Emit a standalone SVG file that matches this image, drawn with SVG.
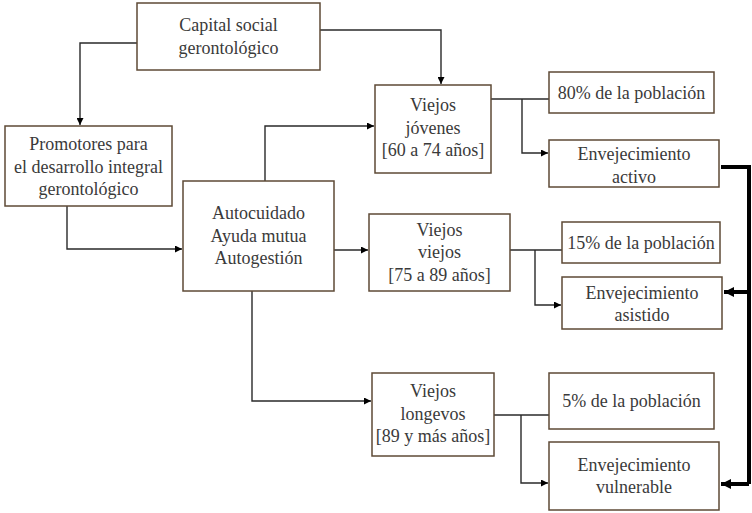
<svg xmlns="http://www.w3.org/2000/svg" width="752" height="513" viewBox="0 0 752 513">
  <style>
    .box { fill: #ffffff; stroke: #5e4a36; stroke-width: 1.5; }
    .txt { font-family: "Liberation Serif", "Times New Roman", Tinos, "Noto Serif", "DejaVu Serif", FreeSerif, Georgia, serif; font-size: 18px; fill: #3a3a3a; text-anchor: middle; }
    .wire { fill: none; stroke: #2a2a2a; stroke-width: 1.4; }
    .bold { fill: none; stroke: #000000; stroke-width: 4; }
  </style>
  <defs>
    <marker id="arrow" viewBox="0 0 10 10" refX="10" refY="5" markerWidth="7" markerHeight="7" markerUnits="userSpaceOnUse" orient="auto">
      <path d="M0,0 L10,5 L0,10 z" fill="#000000"/>
    </marker>
    <marker id="arrowBold" viewBox="0 0 10 10" refX="10" refY="5" markerWidth="12" markerHeight="10" markerUnits="userSpaceOnUse" orient="auto">
      <path d="M0,0 L10,5 L0,10 z" fill="#000000"/>
    </marker>
  </defs>

  <rect width="752" height="513" fill="#ffffff"/>

  <g id="connectors">
    <!-- Capital social to Promotores -->
    <path class="wire" d="M137,43 H80 V125" marker-end="url(#arrow)"/>
    <!-- Capital social to Viejos jóvenes -->
    <path class="wire" d="M320,30 H441 V84" marker-end="url(#arrow)"/>
    <!-- Promotores to Autocuidado -->
    <path class="wire" d="M67,206 V249 H182" marker-end="url(#arrow)"/>
    <!-- Autocuidado to the three age groups -->
    <path class="wire" d="M265,181 V126 H374" marker-end="url(#arrow)"/>
    <path class="wire" d="M334,250 H368" marker-end="url(#arrow)"/>
    <path class="wire" d="M252,291 V401 H371" marker-end="url(#arrow)"/>
    <!-- Viejos jóvenes branches -->
    <path class="wire" d="M491,99 H549"/>
    <path class="wire" d="M522,99 V153 H548" marker-end="url(#arrow)"/>
    <!-- Viejos viejos branches -->
    <path class="wire" d="M510,250 H562"/>
    <path class="wire" d="M535,250 V305 H561" marker-end="url(#arrow)"/>
    <!-- Viejos longevos branches -->
    <path class="wire" d="M494,415 H549"/>
    <path class="wire" d="M521,415 V483 H548" marker-end="url(#arrow)"/>
    <!-- Bold return line from Envejecimiento activo -->
    <path class="bold" d="M721,167 H749 V484"/>
    <path class="bold" d="M749,292 H724" marker-end="url(#arrowBold)"/>
    <path class="bold" d="M749,484 H721" marker-end="url(#arrowBold)"/>
  </g>

  <g id="capital-social">
    <rect class="box" x="137" y="3" width="183" height="67"/>
    <text class="txt" x="228.5" y="31">Capital social</text>
    <text class="txt" x="228.5" y="54">gerontológico</text>
  </g>

  <g id="promotores">
    <rect class="box" x="5" y="126" width="167" height="80"/>
    <text class="txt" x="88.5" y="150">Promotores para</text>
    <text class="txt" x="88.5" y="173">el desarrollo integral</text>
    <text class="txt" x="88.5" y="195">gerontológico</text>
  </g>

  <g id="autocuidado">
    <rect class="box" x="183" y="181" width="151" height="110"/>
    <text class="txt" x="258.5" y="219">Autocuidado</text>
    <text class="txt" x="258.5" y="242">Ayuda mutua</text>
    <text class="txt" x="258.5" y="264">Autogestión</text>
  </g>

  <g id="viejos-jovenes">
    <rect class="box" x="375" y="85" width="116" height="88"/>
    <text class="txt" x="433" y="111">Viejos</text>
    <text class="txt" x="433" y="134">jóvenes</text>
    <text class="txt" x="433" y="156">[60 a 74 años]</text>
  </g>

  <g id="viejos-viejos">
    <rect class="box" x="369" y="214" width="141" height="77"/>
    <text class="txt" x="439.5" y="236">Viejos</text>
    <text class="txt" x="439.5" y="258">viejos</text>
    <text class="txt" x="439.5" y="281">[75 a 89 años]</text>
  </g>

  <g id="viejos-longevos">
    <rect class="box" x="372" y="373" width="122" height="83"/>
    <text class="txt" x="433" y="397">Viejos</text>
    <text class="txt" x="433" y="420">longevos</text>
    <text class="txt" x="433" y="442">[89 y más años]</text>
  </g>

  <g id="poblacion-80">
    <rect class="box" x="549" y="72" width="165" height="41"/>
    <text class="txt" x="631.5" y="99">80% de la población</text>
  </g>

  <g id="envejecimiento-activo">
    <rect class="box" x="549" y="140" width="170" height="47"/>
    <text class="txt" x="634" y="160">Envejecimiento</text>
    <text class="txt" x="634" y="183">activo</text>
  </g>

  <g id="poblacion-15">
    <rect class="box" x="562" y="222" width="158" height="41"/>
    <text class="txt" x="641" y="249">15% de la población</text>
  </g>

  <g id="envejecimiento-asistido">
    <rect class="box" x="562" y="277" width="160" height="52"/>
    <text class="txt" x="642" y="299">Envejecimiento</text>
    <text class="txt" x="642" y="321">asistido</text>
  </g>

  <g id="poblacion-5">
    <rect class="box" x="549" y="373" width="165" height="56"/>
    <text class="txt" x="631.5" y="407">5% de la población</text>
  </g>

  <g id="envejecimiento-vulnerable">
    <rect class="box" x="549" y="442" width="170" height="68"/>
    <text class="txt" x="634" y="471">Envejecimiento</text>
    <text class="txt" x="634" y="493">vulnerable</text>
  </g>
</svg>
